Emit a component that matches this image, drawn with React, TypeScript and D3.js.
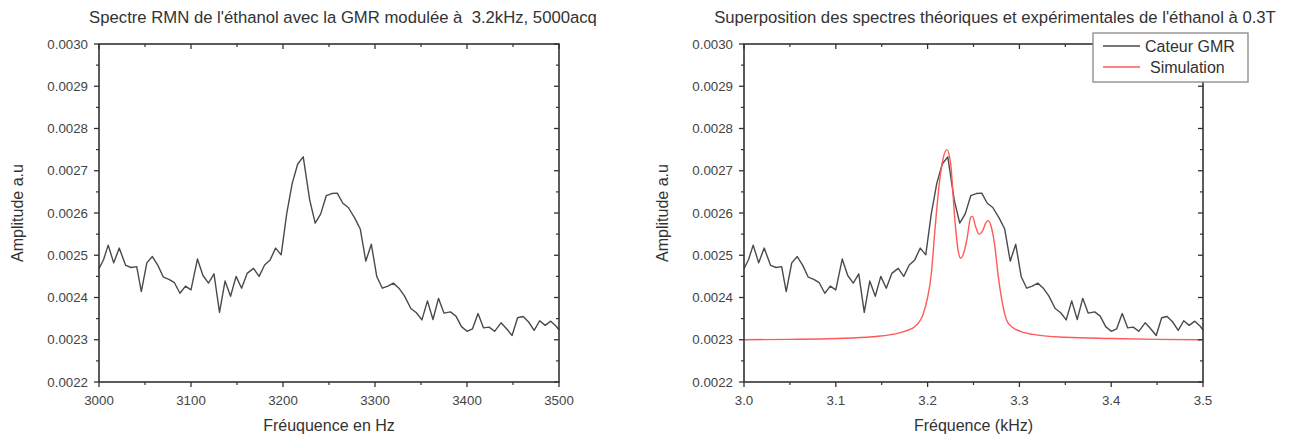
import React from "react";
import * as d3 from "d3";

// ---------- data ----------
const expFreqHz = [
  3000, 3005, 3010, 3016, 3022, 3029, 3035, 3041, 3046, 3052, 3058, 3064, 3070, 3076, 3082, 3088,
  3094, 3100, 3107, 3113, 3119, 3125, 3131, 3137, 3143, 3149, 3155, 3161, 3168, 3174, 3180, 3186,
  3192, 3198, 3204, 3210, 3216, 3222, 3229, 3235, 3241, 3247, 3253, 3259, 3265, 3271, 3278, 3284,
  3290, 3296, 3302, 3308, 3314, 3320, 3326, 3332, 3339, 3345, 3351, 3357, 3363, 3369, 3375, 3382,
  3388, 3394, 3400, 3406, 3412, 3418, 3424, 3430, 3437, 3443, 3449, 3455, 3461, 3467, 3473, 3479,
  3485, 3491, 3497, 3500,
];
const expAmp = [
  0.002468, 0.00249, 0.002524, 0.002482, 0.002517, 0.002476, 0.002471, 0.002473, 0.002414, 0.002482,
  0.002497, 0.002476, 0.002448, 0.002443, 0.002435, 0.00241, 0.002427, 0.002418, 0.002491, 0.002452,
  0.002434, 0.002456, 0.002365, 0.002439, 0.002403, 0.00245, 0.002422, 0.002457, 0.002469, 0.00245,
  0.002477, 0.002489, 0.002517, 0.002501, 0.002598, 0.00267, 0.002716, 0.002733, 0.002631, 0.002576,
  0.002598, 0.002641, 0.002646, 0.002647, 0.002623, 0.002613, 0.002588, 0.002562, 0.002486, 0.002526,
  0.002449, 0.002422, 0.002427, 0.002434, 0.002422, 0.002404, 0.002374, 0.002364, 0.002347, 0.002392,
  0.002348, 0.002398, 0.002363, 0.002366, 0.002356, 0.002331, 0.00232, 0.002326, 0.002362, 0.002328,
  0.00233, 0.00232, 0.00234, 0.002326, 0.00231, 0.002352, 0.002355, 0.002342, 0.002322, 0.002345,
  0.002334, 0.002344, 0.002332, 0.002323,
];
const simFreqHz = [
  3000, 3050, 3100, 3140, 3160, 3175, 3186, 3195, 3200, 3204, 3208, 3213, 3217, 3221, 3225, 3230,
  3233, 3236, 3240, 3243, 3247, 3249, 3252, 3256, 3260, 3263, 3266, 3269, 3273, 3277, 3280, 3286,
  3292, 3301, 3320, 3350, 3400, 3450, 3500,
];
const simAmp = [
  0.0023, 0.002301, 0.002303, 0.002307, 0.002312, 0.00232, 0.002331, 0.00236, 0.0024, 0.002455,
  0.00256, 0.002675, 0.00273, 0.00275, 0.002718, 0.002576, 0.002515, 0.002493, 0.00251, 0.00254,
  0.00259, 0.002592, 0.00257, 0.00255, 0.002558, 0.002575, 0.002582, 0.00257, 0.002525, 0.00245,
  0.002405, 0.002347, 0.00233, 0.00232, 0.002311, 0.002306, 0.002303, 0.002301, 0.0023,
];
const yTicks = [0.0022, 0.0023, 0.0024, 0.0025, 0.0026, 0.0027, 0.0028, 0.0029, 0.003];
const xTicksHz = [3000, 3100, 3200, 3300, 3400, 3500];
const xTicksKHz = [3.0, 3.1, 3.2, 3.3, 3.4, 3.5];
const titleLeft = "Spectre RMN de l'éthanol avec la GMR modulée à\u00a0 3.2kHz, 5000acq";
const titleRight = "Superposition des spectres théoriques et expérimentales de l'éthanol à 0.3T";
const legendLabels = ["Cateur GMR", "Simulation"];

const FONT = "'Liberation Sans', Arial, sans-serif";
const AXIS = "#333";
const BLACK_LINE = "#4a4a4a";
const RED_LINE = "#ff5a5a";

type Series = { x: number[]; y: number[]; color: string; curve?: d3.CurveFactory };

function Plot(props: {
  left: number;
  right: number;
  top: number;
  bottom: number;
  xDomain: [number, number];
  xTicks: number[];
  xFmt: (v: number) => string;
  xMinorStep: number;
  title: string;
  titleX: number;
  xLabel: string;
  series: Series[];
}) {
  const { left, right, top, bottom, xDomain, xTicks, xFmt, xMinorStep, title, titleX, xLabel, series } = props;
  const x = d3.scaleLinear().domain(xDomain).range([left, right]);
  const y = d3.scaleLinear().domain([0.0022, 0.003]).range([bottom, top]);
  const xMinor = d3.range(xDomain[0] + xMinorStep, xDomain[1], xMinorStep * 2).map((v) => +v.toFixed(6));
  const yMinor = d3.range(0.00225, 0.003, 0.0001).map((v) => +v.toFixed(6));
  const maj = 5;
  const min = 3;
  return (
    <g>
      <text x={titleX} y={23} textAnchor="middle" fontSize={16.7} fill="#333" fontFamily={FONT}>
        {title}
      </text>
      {series.map((s, i) => {
        const line = d3
          .line<number>()
          .x((_, k) => x(s.x[k]))
          .y((v) => y(v))
          .curve(s.curve ?? d3.curveLinear);
        return <path key={i} d={line(s.y) ?? ""} fill="none" stroke={s.color} strokeWidth={1.4} strokeLinejoin="round" />;
      })}
      {/* frame */}
      <rect x={left} y={top} width={right - left} height={bottom - top} fill="none" stroke={AXIS} strokeWidth={1.6} />
      {/* y ticks */}
      {yTicks.map((t) => (
        <g key={"y" + t}>
          <line x1={left - maj} x2={left} y1={y(t)} y2={y(t)} stroke={AXIS} strokeWidth={1.3} />
          <line x1={right} x2={right - maj} y1={y(t)} y2={y(t)} stroke={AXIS} strokeWidth={1.3} />
          <text x={left - 11} y={y(t) + 4.5} textAnchor="end" fontSize={13.3} fill="#444" fontFamily={FONT}>
            {t.toFixed(4)}
          </text>
        </g>
      ))}
      {yMinor.map((t) => (
        <g key={"ym" + t}>
          <line x1={left - min} x2={left} y1={y(t)} y2={y(t)} stroke={AXIS} strokeWidth={1.2} />
          <line x1={right} x2={right - min} y1={y(t)} y2={y(t)} stroke={AXIS} strokeWidth={1.2} />
        </g>
      ))}
      {xTicks.map((t) => (
        <g key={"x" + t}>
          <line x1={x(t)} x2={x(t)} y1={bottom} y2={bottom + maj} stroke={AXIS} strokeWidth={1.3} />
          <line x1={x(t)} x2={x(t)} y1={top} y2={top + maj} stroke={AXIS} strokeWidth={1.3} />
          <text x={x(t)} y={bottom + 23} textAnchor="middle" fontSize={13.3} fill="#444" fontFamily={FONT}>
            {xFmt(t)}
          </text>
        </g>
      ))}
      {xMinor.map((t) => (
        <g key={"xm" + t}>
          <line x1={x(t)} x2={x(t)} y1={bottom} y2={bottom + min} stroke={AXIS} strokeWidth={1.2} />
          <line x1={x(t)} x2={x(t)} y1={top} y2={top + min} stroke={AXIS} strokeWidth={1.2} />
        </g>
      ))}
      <text x={(left + right) / 2} y={431} textAnchor="middle" fontSize={16} fill="#333" fontFamily={FONT}>
        {xLabel}
      </text>
      <text
        transform={`translate(${left - 76},${(top + bottom) / 2}) rotate(-90)`}
        textAnchor="middle"
        fontSize={16}
        fill="#333"
        fontFamily={FONT}
      >
        Amplitude a.u
      </text>
    </g>
  );
}

export default function App() {
  const expKHz = expFreqHz.map((v) => v / 1000);
  const simKHz = simFreqHz.map((v) => v / 1000);
  return (
    <svg width={1292} height={436} style={{ display: "block", position: "absolute", left: 0, top: 0, background: "#fff" }}>
      <rect width={1292} height={436} fill="#fff" />
      <Plot
        left={99}
        right={559}
        top={44}
        bottom={382}
        xDomain={[3000, 3500]}
        xTicks={xTicksHz}
        xFmt={(v) => String(v)}
        xMinorStep={50}
        title={titleLeft}
        titleX={343}
        xLabel="Fréuquence en Hz"
        series={[{ x: expFreqHz, y: expAmp, color: BLACK_LINE }]}
      />
      <Plot
        left={744}
        right={1203}
        top={44}
        bottom={382}
        xDomain={[3.0, 3.5]}
        xTicks={xTicksKHz}
        xFmt={(v) => v.toFixed(1)}
        xMinorStep={0.05}
        title={titleRight}
        titleX={995}
        xLabel="Fréquence (kHz)"
        series={[
          { x: expKHz, y: expAmp, color: BLACK_LINE },
          { x: simKHz, y: simAmp, color: RED_LINE, curve: d3.curveMonotoneX },
        ]}
      />
      {/* legend */}
      <g fontFamily={FONT} fontSize={16} fill="#333">
        <rect x={1093} y={33} width={155} height={49} fill="#fff" stroke="#888" strokeWidth={1.3} />
        <line x1={1103} x2={1140} y1={46} y2={46} stroke={BLACK_LINE} strokeWidth={1.6} />
        <text x={1145} y={52}>{legendLabels[0]}</text>
        <line x1={1103} x2={1140} y1={67} y2={67} stroke={RED_LINE} strokeWidth={1.6} />
        <text x={1150} y={73}>{legendLabels[1]}</text>
      </g>
    </svg>
  );
}
